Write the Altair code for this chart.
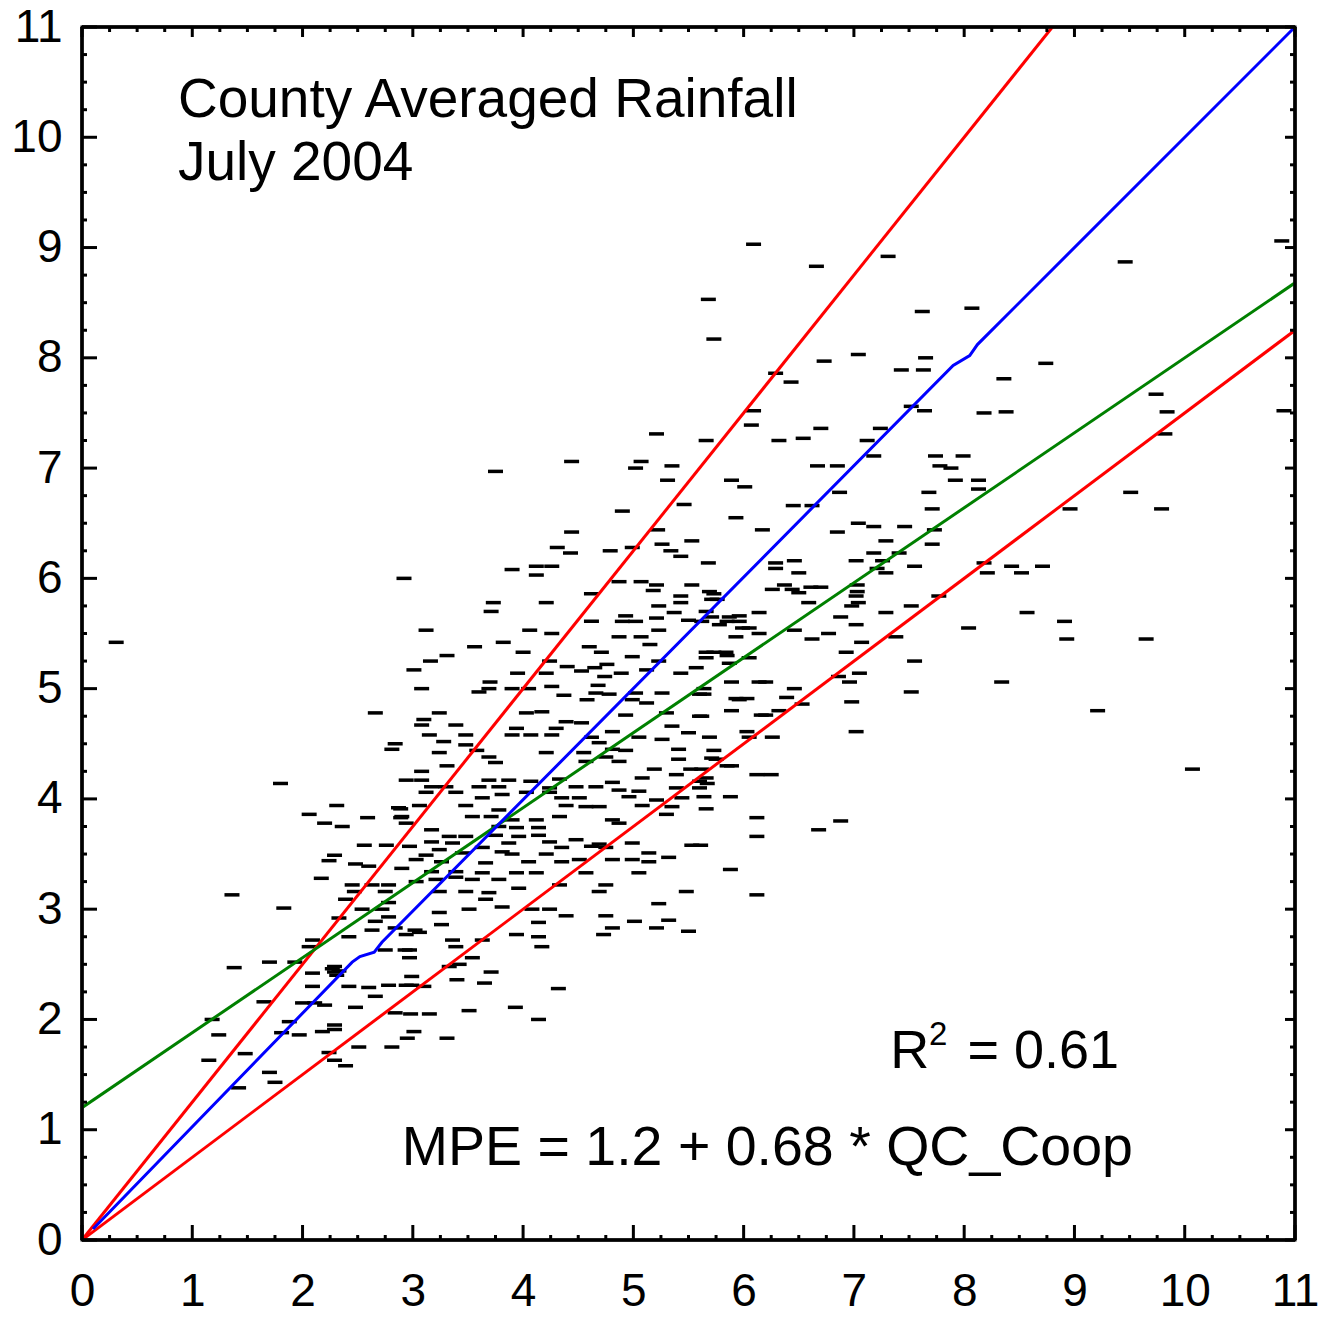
import altair as alt
import pandas as pd

# ---------------- data ----------------
# (QC_Coop, MPE) county averages, inches
county_points = [
    (6.09, 9.03), (7.31, 8.92), (6.66, 8.83), (9.46, 8.87), (10.88, 9.06), (5.68, 8.53),
    (7.62, 8.42), (8.07, 8.45), (5.73, 8.17), (8.74, 7.95), (8.36, 7.81), (8.38, 7.51),
    (9.74, 7.67), (9.84, 7.51), (9.82, 7.31), (9.51, 6.78), (10.9, 7.52), (7.04, 8.03),
    (6.73, 7.97), (6.29, 7.86), (6.43, 7.78), (7.43, 7.89), (7.65, 8.00), (7.63, 7.89),
    (6.09, 7.52), (6.07, 7.39), (5.66, 7.25), (6.32, 7.25), (6.54, 7.27), (6.70, 7.36),
    (7.24, 7.36), (7.12, 7.25), (7.52, 7.56), (7.64, 7.52), (8.18, 7.50), (7.18, 7.11),
    (7.74, 7.11), (7.99, 7.11), (6.67, 7.02), (6.85, 7.02), (7.78, 7.02), (7.88, 7.00),
    (5.89, 6.89), (6.01, 6.83), (7.92, 6.89), (8.13, 6.89), (8.13, 6.81), (6.87, 6.78),
    (7.68, 6.78),
    (6.45, 6.66), (6.62, 6.66), (7.71, 6.63), (5.93, 6.55), (6.17, 6.44), (7.04, 6.50),
    (7.18, 6.47), (7.46, 6.47), (6.85, 6.42), (7.73, 6.44), (7.29, 6.34), (7.71, 6.31),
    (7.18, 6.23), (7.41, 6.23), (7.02, 6.16), (7.26, 6.16), (6.29, 6.14), (6.46, 6.16),
    (6.29, 6.09), (6.50, 6.05), (7.21, 6.09), (7.29, 6.05), (7.55, 6.11), (8.18, 6.14),
    (8.21, 6.05), (8.43, 6.11), (8.52, 6.05), (8.71, 6.11), (6.37, 5.94), (6.26, 5.90),
    (6.44, 5.90), (6.50, 5.87), (6.61, 5.92), (6.70, 5.92), (7.03, 5.94), (7.03, 5.88),
    (7.02, 5.84), (7.04, 5.78), (6.98, 5.75), (6.59, 5.78), (7.77, 5.84), (7.52, 5.75),
    (5.69, 5.88), (5.71, 5.81), (6.14, 5.69), (5.96, 5.66), (5.71, 5.65), (5.87, 5.65),
    (5.99, 5.55), (6.05, 5.55), (6.14, 5.50), (6.88, 5.65), (7.02, 5.58), (7.29, 5.69),
    (8.57, 5.69), (6.46, 5.53), (6.77, 5.50), (5.93, 5.47), (6.62, 5.45), (7.38, 5.47),
    (8.04, 5.55), (7.07, 5.42), (6.93, 5.33), (5.66, 5.33), (5.84, 5.33), (5.66, 5.28),
    (5.87, 5.23), (6.05, 5.28), (7.55, 5.25), (6.86, 5.11), (7.05, 5.14), (6.96, 5.06),
    (8.34, 5.06), (5.89, 5.06), (6.14, 5.06), (6.20, 5.06), (5.64, 5.00), (5.64, 4.95),
    (6.46, 5.00), (7.52, 4.97), (5.93, 4.91), (6.03, 4.91), (6.39, 4.92), (6.53, 4.86),
    (5.89, 4.80), (6.32, 4.80), (6.16, 4.76), (6.20, 4.76), (6.98, 4.88), (5.62, 4.75),
    (7.02, 4.61), (5.69, 4.56), (6.03, 4.61), (6.05, 4.56), (6.26, 4.56), (5.73, 4.44),
    (5.71, 4.37), (5.85, 4.30), (5.62, 4.27), (6.12, 4.22), (6.25, 4.22),
    (8.96, 6.63), (9.79, 6.63), (8.91, 5.61), (8.93, 5.45), (9.65, 5.45), (9.21, 4.80),
    (10.07, 4.27),
    (5.66, 4.19), (5.67, 4.14), (5.64, 4.02), (5.88, 4.02), (5.66, 3.91), (6.12, 3.83),
    (6.12, 3.66), (6.88, 3.80), (6.68, 3.72), (5.88, 3.36), (6.12, 3.13), (5.61, 3.58),
    (5.21, 7.31), (4.44, 7.06), (5.07, 7.06), (5.02, 7.00), (5.35, 7.02), (3.75, 6.97),
    (5.31, 6.89), (5.46, 6.67), (4.90, 6.61), (5.22, 6.44), (4.44, 6.42), (5.53, 6.34),
    (5.26, 6.31), (4.31, 6.28), (4.99, 6.28), (4.43, 6.23), (4.79, 6.25), (5.34, 6.25),
    (5.43, 6.20), (5.68, 6.14), (3.90, 6.08), (4.12, 6.11), (4.26, 6.11), (4.12, 6.03),
    (2.92, 6.00), (4.87, 5.97), (5.07, 5.97), (5.21, 5.94), (5.53, 5.94), (5.18, 5.89),
    (5.73, 5.86), (4.62, 5.86), (5.43, 5.84), (5.76, 5.81), (5.43, 5.78), (3.73, 5.78),
    (4.21, 5.78), (5.23, 5.75), (3.71, 5.70), (5.37, 5.69), (5.66, 5.70), (4.93, 5.66),
    (5.21, 5.64), (5.50, 5.62), (5.62, 5.61), (4.62, 5.61), (4.90, 5.61), (5.02, 5.61),
    (5.85, 5.61), (5.96, 5.61), (5.78, 5.58), (3.12, 5.53), (4.06, 5.53), (4.26, 5.50),
    (4.87, 5.47), (5.07, 5.47), (5.23, 5.53), (3.56, 5.38), (3.82, 5.42), (4.60, 5.38),
    (5.15, 5.40), (4.71, 5.33), (5.73, 5.33), (3.31, 5.30), (4.00, 5.33), (4.99, 5.29),
    (3.16, 5.25), (4.24, 5.25), (5.23, 5.25), (5.85, 5.30), (3.01, 5.17), (3.95, 5.14),
    (4.40, 5.20), (4.53, 5.16), (4.65, 5.19), (4.76, 5.22), (4.89, 5.14), (5.12, 5.17),
    (5.57, 5.19), (5.43, 5.14), (4.21, 5.14), (4.74, 5.11), (3.70, 5.06), (3.08, 5.00),
    (3.60, 4.97), (3.69, 5.00), (3.90, 5.00), (4.05, 5.00), (4.26, 5.02), (4.37, 4.94),
    (4.68, 5.03), (4.66, 4.96), (4.78, 4.95), (5.02, 4.96), (5.26, 4.96), (5.60, 4.95),
    (5.96, 4.90), (5.12, 4.87), (4.99, 4.90), (4.58, 4.90), (3.24, 4.78), (4.03, 4.78),
    (4.17, 4.79), (4.93, 4.76), (5.30, 4.78), (5.60, 4.75), (3.08, 4.67), (3.39, 4.67),
    (4.39, 4.70), (4.53, 4.69), (5.35, 4.66), (3.94, 4.64), (4.30, 4.64), (4.81, 4.61),
    (3.15, 4.58), (3.48, 4.58), (3.90, 4.58), (4.07, 4.58), (4.26, 4.58), (5.05, 4.56),
    (5.26, 4.54), (5.50, 4.60), (3.28, 4.52), (3.48, 4.49), (4.62, 4.56), (4.69, 4.51),
    (4.81, 4.45), (4.93, 4.44), (5.41, 4.45), (3.24, 4.42), (3.58, 4.44), (4.21, 4.42),
    (4.55, 4.42), (3.69, 4.38), (4.57, 4.34), (4.75, 4.38), (5.41, 4.36), (4.87, 4.34),
    (5.75, 4.36), (3.31, 4.30), (3.75, 4.33), (5.89, 4.30), (3.08, 4.25), (5.19, 4.27),
    (5.08, 4.19), (5.39, 4.22), (5.52, 4.27), (2.94, 4.17), (3.08, 4.17), (3.17, 4.11),
    (3.30, 4.11), (3.69, 4.17), (3.87, 4.17), (4.07, 4.16), (4.33, 4.18), (4.81, 4.15),
    (3.60, 4.11), (3.78, 4.11), (4.24, 4.10), (4.48, 4.11), (4.66, 4.11), (4.87, 4.08),
    (5.05, 4.07), (5.39, 4.10), (5.60, 4.16), (5.60, 4.10), (3.12, 4.06), (3.39, 4.06),
    (3.63, 4.01), (3.81, 4.04), (4.03, 4.06), (4.24, 4.06), (4.35, 4.01), (4.51, 4.01),
    (4.96, 4.02), (5.21, 3.99), (5.44, 4.01), (2.87, 3.92), (3.06, 3.94), (3.48, 3.94),
    (3.78, 3.90), (4.39, 3.94), (4.57, 3.93), (4.69, 3.93), (5.08, 3.94), (5.35, 3.93),
    (5.30, 3.86), (2.90, 3.84), (3.54, 3.84), (3.71, 3.84), (3.90, 3.81), (4.12, 3.81),
    (4.33, 3.84), (4.81, 3.81), (4.87, 3.78), (2.94, 3.78), (3.78, 3.75), (3.94, 3.74),
    (4.14, 3.74), (3.17, 3.72), (3.33, 3.66), (3.48, 3.66), (3.75, 3.67), (3.96, 3.66),
    (4.14, 3.67), (3.17, 3.61), (3.36, 3.60), (3.87, 3.60), (4.24, 3.61), (4.48, 3.63),
    (4.99, 3.60), (5.53, 3.58), (4.69, 3.59), (2.97, 3.57), (3.24, 3.54), (3.63, 3.56),
    (3.81, 3.52), (4.35, 3.56), (4.62, 3.57), (4.75, 3.56), (5.14, 3.51), (5.32, 3.47),
    (3.90, 3.50), (4.21, 3.50), (3.45, 3.51), (3.12, 3.49), (3.03, 3.45), (3.26, 3.43),
    (3.66, 3.42), (4.05, 3.43), (4.35, 3.43), (4.51, 3.45), (4.81, 3.45), (4.99, 3.45),
    (5.14, 3.43), (2.90, 3.37), (3.17, 3.34), (3.39, 3.34), (3.63, 3.33), (3.94, 3.33),
    (4.12, 3.33), (4.57, 3.33), (5.05, 3.33), (3.39, 3.29), (3.54, 3.27), (3.78, 3.27),
    (3.03, 3.25), (3.21, 3.27), (4.75, 3.22), (4.33, 3.22), (3.96, 3.19), (3.24, 3.16),
    (3.48, 3.16), (3.69, 3.15), (4.69, 3.16), (5.48, 3.16), (3.66, 3.09), (5.23, 3.05),
    (3.51, 3.00), (3.24, 2.97), (3.81, 3.02), (4.08, 3.00), (4.24, 3.00), (4.39, 2.94),
    (4.14, 2.88), (4.75, 2.94), (5.01, 2.89), (5.32, 2.90), (4.81, 2.83), (5.21, 2.83),
    (5.50, 2.80), (3.26, 2.86), (3.06, 2.79), (2.94, 2.77), (3.36, 2.72), (3.63, 2.72),
    (3.94, 2.77), (4.14, 2.75), (4.73, 2.77), (2.97, 2.63), (3.39, 2.66), (4.17, 2.66),
    (2.97, 2.56), (3.54, 2.56), (3.71, 2.43), (2.99, 2.39),
    (3.42, 2.50), (3.33, 2.48), (3.40, 2.36), (3.65, 2.33), (2.94, 2.31), (3.10, 2.30),
    (4.32, 2.28), (2.98, 2.05), (3.15, 2.05), (3.51, 2.08), (3.93, 2.11), (4.14, 2.00),
    (3.01, 1.89), (2.95, 1.83), (3.31, 1.83),
    (2.29, 3.49), (2.24, 3.44), (2.48, 3.41), (2.60, 3.39), (2.17, 3.28), (1.36, 3.13),
    (2.45, 3.22), (2.63, 3.22), (2.78, 3.22), (2.47, 3.16), (2.75, 3.16), (2.39, 3.09),
    (2.78, 3.06), (1.83, 3.01), (2.54, 3.00), (2.72, 3.00), (2.33, 2.92), (2.66, 2.89),
    (2.78, 2.93), (2.63, 2.81), (2.84, 2.83), (3.02, 2.81), (2.09, 2.72), (2.42, 2.75),
    (2.06, 2.66), (2.75, 2.63), (2.93, 2.63), (1.70, 2.52), (1.93, 2.52), (1.38, 2.47),
    (2.29, 2.43), (2.27, 2.46), (2.31, 2.40), (2.29, 2.48), (2.33, 2.44), (2.09, 2.42),
    (2.09, 2.30), (2.42, 2.30), (2.60, 2.29), (2.78, 2.31), (2.99, 2.31), (2.66, 2.21),
    (1.65, 2.16), (2.00, 2.15), (2.11, 2.15), (2.20, 2.13), (2.48, 2.11), (2.84, 2.06),
    (1.18, 2.00), (1.88, 1.98), (2.29, 1.95), (1.81, 1.88), (2.18, 1.89), (2.29, 1.91),
    (1.24, 1.86), (1.97, 1.86), (2.51, 1.75), (2.81, 1.75), (1.48, 1.69), (1.15, 1.63),
    (2.24, 1.70), (2.29, 1.63), (2.39, 1.58), (1.70, 1.52), (1.75, 1.43), (1.42, 1.38),
    (0.31, 5.42), (2.66, 4.78), (3.10, 4.72), (2.84, 4.50), (2.81, 4.45), (1.80, 4.14),
    (2.31, 3.94), (2.06, 3.86), (2.59, 3.83), (2.89, 3.83), (2.89, 3.91), (2.20, 3.78),
    (2.36, 3.75), (2.56, 3.58), (2.76, 3.58),
]

# reference / fit lines (QC_Coop -> MPE)
one_to_one_x = [0.1, 2.45, 2.52, 2.65, 2.72, 7.90, 8.05, 8.12, 11.0]
one_to_one_y = [0.1, 2.52, 2.57, 2.61, 2.70, 7.93, 8.02, 8.12, 11.0]
upper_x = [0.0, 8.8]
upper_y = [0.0, 11.0]
lower_x = [0.0, 11.0]
lower_y = [0.0, 8.25]
fit_x = [0.0, 11.0]
fit_y = [1.2, 1.2 + 0.68 * 11.0]

major_ticks = list(range(0, 12))
minor_ticks = [i / 4 for i in range(1, 44) if i % 4 != 0]

FONT = "Liberation Sans"
W = 1213
H = 1213

# ---------------- frames ----------------
pts = pd.DataFrame(county_points, columns=["x", "y"])

lines = []
for name, xs, ys in [("upper", upper_x, upper_y), ("lower", lower_x, lower_y),
                     ("fit", fit_x, fit_y), ("one", one_to_one_x, one_to_one_y)]:
    for i, (a, b) in enumerate(zip(xs, ys)):
        lines.append({"series": name, "x": a, "y": b, "o": i})
lines = pd.DataFrame(lines)

xs = alt.Scale(domain=[0, 11], nice=False, zero=False)
ys = alt.Scale(domain=[0, 11], nice=False, zero=False)

X = alt.X("x:Q", scale=xs, title=None,
          axis=alt.Axis(values=major_ticks, format="d", ticks=False, domain=False, grid=False,
                        tickSize=0, labelFont=FONT, labelFontSize=46, labelColor="black",
                        labelPadding=29, labelOverlap=False, labelFlush=False, labelBound=False))
Y = alt.Y("y:Q", scale=ys, title=None,
          axis=alt.Axis(values=major_ticks, format="d", ticks=False, domain=False, grid=False,
                        tickSize=0, labelFont=FONT, labelFontSize=46, labelColor="black",
                        labelPadding=20, labelOverlap=False, labelFlush=False, labelBound=False))

points = alt.Chart(pts).mark_tick(orient="horizontal", size=15, thickness=3.5,
                                  color="black", opacity=1).encode(x=X, y=Y)

line_layer = alt.Chart(lines).mark_line(strokeWidth=3, clip=True).encode(
    x=X, y=Y, order="o:Q",
    color=alt.Color("series:N", legend=None,
                    scale=alt.Scale(domain=["upper", "lower", "fit", "one"],
                                    range=["#ff0000", "#ff0000", "#008000", "#0000ff"])),
    detail="series:N",
)

# frame (box) and inward axis ticks on all four sides
frame = pd.DataFrame({"x": [0, 11], "y": [0, 11]})
frame_layers = [
    alt.Chart(frame).mark_rule(color="black", strokeWidth=3.5).encode(
        x=X, y=alt.value(0), y2=alt.value(H)),
    alt.Chart(frame).mark_rule(color="black", strokeWidth=3.5).encode(
        y=Y, x=alt.value(0), x2=alt.value(W)),
]
maj = pd.DataFrame({"x": major_ticks, "y": major_ticks})
mnr = pd.DataFrame({"x": minor_ticks, "y": minor_ticks})
tick_layers = []
for df, L_bl, L_tr in [(maj, 15, 10), (mnr, 5, 5)]:
    base = alt.Chart(df).mark_rule(color="black", strokeWidth=3)
    tick_layers += [
        base.encode(x=X, y=alt.value(H), y2=alt.value(H - L_bl)),
        base.encode(x=X, y=alt.value(0), y2=alt.value(L_tr)),
        base.encode(y=Y, x=alt.value(0), x2=alt.value(L_bl)),
        base.encode(y=Y, x=alt.value(W), x2=alt.value(W - L_tr)),
    ]

def label(txt, x, y, size):
    return alt.Chart(pd.DataFrame({"x": [x], "y": [y], "t": [txt]})).mark_text(
        align="left", baseline="alphabetic", font=FONT, fontSize=size, color="black"
    ).encode(x=X, y=Y, text="t:N")

texts = [
    label("County Averaged Rainfall", 0.87, 10.18, 55),
    label("July 2004", 0.87, 9.61, 55),
    label("R", 7.33, 1.56, 54),
    label("2", 7.68, 1.77, 33),
    label("= 0.61", 8.03, 1.56, 54),
    label("MPE = 1.2 + 0.68 * QC_Coop", 2.90, 0.68, 55.5),
]

chart = alt.layer(points, line_layer, *frame_layers, *tick_layers, *texts).properties(
    width=W, height=H,
    background="white",
    autosize=alt.AutoSizeParams(type="none"),
    padding={"left": 82, "top": 27, "right": 31, "bottom": 78},
).configure_view(stroke="black", strokeWidth=3)

chart.save("out.html", embed_options={"renderer": "svg", "actions": False})
